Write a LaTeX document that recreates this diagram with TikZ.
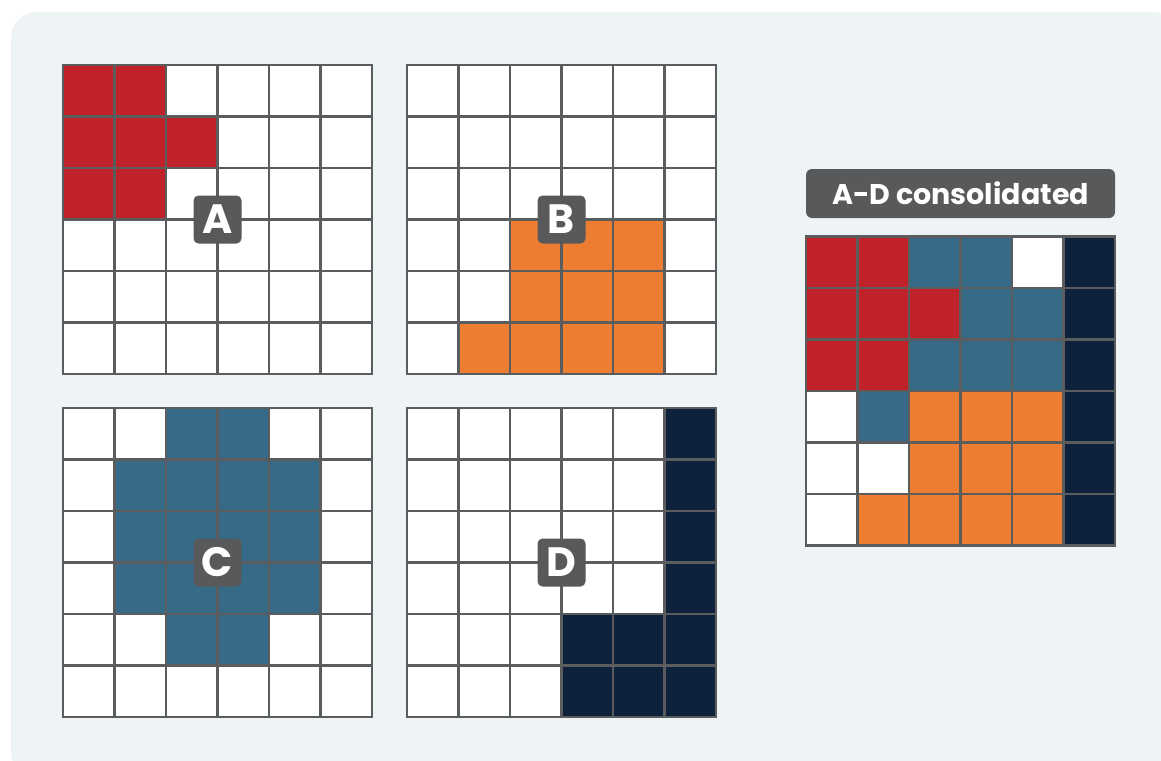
\documentclass[tikz,border=0pt]{standalone}
\usepackage{fontspec}
\newfontfamily\pop{Poppins}
\definecolor{cred}{HTML}{C1222A}
\definecolor{corange}{HTML}{EC7D31}
\definecolor{cteal}{HTML}{376A87}
\definecolor{cnavy}{HTML}{0F223C}
\definecolor{gridc}{HTML}{5B5C5E}
\definecolor{lblc}{HTML}{58595B}
\definecolor{bgc}{HTML}{EEF3F6}
\tikzset{
  gridline/.style={draw=gridc, line width=2.2pt},
  gridframe/.style={draw=gridc, line width=2.6pt},
  letterbox/.style={fill=lblc, text=white, rounded corners=5pt, minimum size=48pt, inner sep=0pt, font=\pop\bfseries\fontsize{41}{41}\selectfont},
  titlebox/.style={fill=lblc, text=white, rounded corners=6pt, minimum width=309pt, minimum height=49pt, inner sep=0pt, font=\pop\bfseries\fontsize{28.5}{28.5}\selectfont}
}
\newcommand\cellfill[1]{%
  \foreach \c/\r/\colr in {#1} {\fill[\colr] (\c*51.5,\r*51.5) rectangle ++(51.5,51.5);}%
}
\newcommand\gridlines{%
  \foreach \i in {1,...,5} {\draw[gridline] (\i*51.5,0) -- (\i*51.5,309); \draw[gridline] (0,\i*51.5) -- (309,\i*51.5);}%
  \draw[gridframe] (0,0) rectangle (309,309);%
}
\begin{document}
\begin{tikzpicture}[x=1pt,y=-1pt]
\useasboundingbox (0,0) rectangle (1161,760);
\clip (0,0) rectangle (1161,760);
\fill[bgc, rounded corners=26pt] (11,12) rectangle (1178,778);
% Grid A
\begin{scope}[shift={(63,65)}]
  \fill[white] (0,0) rectangle (309,309);
  \cellfill{0/0/cred,1/0/cred,0/1/cred,1/1/cred,2/1/cred,0/2/cred,1/2/cred}
  \gridlines
  \node[letterbox] (la) at (154.5,154.5) {A};
\end{scope}
% Grid B
\begin{scope}[shift={(407,65)}]
  \fill[white] (0,0) rectangle (309,309);
  \cellfill{2/3/corange,3/3/corange,4/3/corange,2/4/corange,3/4/corange,4/4/corange,1/5/corange,2/5/corange,3/5/corange,4/5/corange}
  \gridlines
  \node[letterbox] (lb) at (154.5,154.5) {B};
\end{scope}
% Grid C
\begin{scope}[shift={(63,408)}]
  \fill[white] (0,0) rectangle (309,309);
  \cellfill{2/0/cteal,3/0/cteal,1/1/cteal,2/1/cteal,3/1/cteal,4/1/cteal,1/2/cteal,2/2/cteal,3/2/cteal,4/2/cteal,1/3/cteal,2/3/cteal,3/3/cteal,4/3/cteal,2/4/cteal,3/4/cteal}
  \gridlines
  \node[letterbox] (lc) at (154.5,154.5) {C};
\end{scope}
% Grid D
\begin{scope}[shift={(407,408)}]
  \fill[white] (0,0) rectangle (309,309);
  \cellfill{5/0/cnavy,5/1/cnavy,5/2/cnavy,5/3/cnavy,3/4/cnavy,4/4/cnavy,5/4/cnavy,3/5/cnavy,4/5/cnavy,5/5/cnavy}
  \gridlines
  \node[letterbox] (ld) at (154.5,154.5) {D};
\end{scope}
% Consolidated
\node[titlebox] (title) at (960.5,193.5) {A-D consolidated};
\begin{scope}[shift={(806,236.5)}]
  \fill[white] (0,0) rectangle (309,309);
  \cellfill{0/0/cred,1/0/cred,2/0/cteal,3/0/cteal,5/0/cnavy,
            0/1/cred,1/1/cred,2/1/cred,3/1/cteal,4/1/cteal,5/1/cnavy,
            0/2/cred,1/2/cred,2/2/cteal,3/2/cteal,4/2/cteal,5/2/cnavy,
            1/3/cteal,2/3/corange,3/3/corange,4/3/corange,5/3/cnavy,
            2/4/corange,3/4/corange,4/4/corange,5/4/cnavy,
            1/5/corange,2/5/corange,3/5/corange,4/5/corange,5/5/cnavy}
  \gridlines
\end{scope}
\end{tikzpicture}
\end{document}
